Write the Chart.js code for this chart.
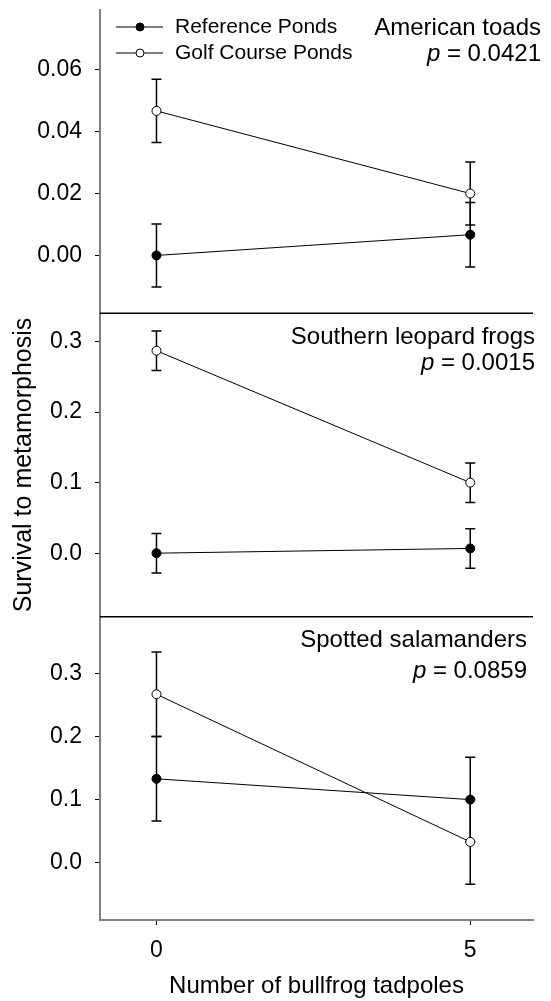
<!DOCTYPE html>
<html>
<head>
<meta charset="utf-8">
<script src="https://cdn.jsdelivr.net/npm/chart.js@4.4.1/dist/chart.umd.min.js"></script>
<style>
  html, body { margin: 0; padding: 0; background: #fff; }
  #wrap { width: 551px; height: 1001px; }
</style>
</head>
<body>
<div id="wrap"><canvas id="chart" width="551" height="1001"></canvas></div>
<script>
// bullfrog tadpoles added per tank
var tadpoles = [0, 5];

// American toads
var toadRef = [0, 0.0067];
var toadRefSe = [0.0102, 0.0104];
var toadGolf = [0.0467, 0.020];
var toadGolfSe = [0.0102, 0.0102];

// Southern leopard frogs
var frogRef = [0, 0.0067];
var frogRefSe = [0.028, 0.028];
var frogGolf = [0.287, 0.100];
var frogGolfSe = [0.028, 0.028];

// Spotted salamanders
var salRef = [0.133, 0.100];
var salRefSe = [0.067, 0.067];
var salGolf = [0.267, 0.033];
var salGolfSe = [0.067, 0.067];

// tick labels
var xTicks = [0, 5];
var toadTicks = [0, 0.02, 0.04, 0.06];
var frogTicks = [0, 0.1, 0.2, 0.3];
var salTicks = [0, 0.1, 0.2, 0.3];

var panelNames = ["American toads", "Southern leopard frogs", "Spotted salamanders"];
var panelP = ["0.0421", "0.0015", "0.0859"];

var FONT = '"Liberation Sans", Arial, sans-serif';
var AXIS_GREY = "#808080";

Chart.defaults.color = "#000";
Chart.defaults.font.family = FONT;

function points(xs, ys) {
  var out = [];
  for (var i = 0; i < xs.length; i++) out.push({ x: xs[i], y: ys[i] });
  return out;
}

function series(label, ys, se, axis, open) {
  return {
    label: label,
    data: points(tadpoles, ys),
    se: se,
    yAxisID: axis,
    showLine: true,
    borderColor: "#000",
    borderWidth: 1,
    pointRadius: 4.5,
    pointHoverRadius: 4.5,
    pointBorderWidth: 1,
    pointBorderColor: "#000",
    pointBackgroundColor: open ? "#fff" : "#000"
  };
}

function yScale(min, max, ticks, digits, title) {
  var s = {
    type: "linear",
    position: "left",
    stack: "panels",
    stackWeight: 1,
    min: min,
    max: max,
    border: { display: true, color: AXIS_GREY, width: 2 },
    grid: { drawOnChartArea: false, drawTicks: true, tickLength: 5, color: "#000", lineWidth: 1 },
    ticks: {
      padding: 13,
      font: { size: 23 },
      callback: function(v) { return v.toFixed(digits); }
    },
    afterBuildTicks: function(scale) {
      scale.ticks = ticks.map(function(v) { return { value: v }; });
    },
    afterFit: function(scale) {
      scale.width = 100;
      scale.paddingTop = 0;
      scale.paddingBottom = 0;
    }
  };
  if (title) {
    s.title = { display: true, text: title, font: { size: 25 }, padding: { top: 9, bottom: 0 } };
  }
  return s;
}

// error bars sit under the markers
var errorBars = {
  id: "errorBars",
  beforeDatasetsDraw: function(chart) {
    var ctx = chart.ctx;
    var xs = chart.scales.x;
    ctx.save();
    ctx.strokeStyle = "#000";
    ctx.lineWidth = 1.5;
    chart.data.datasets.forEach(function(ds) {
      var ys = chart.scales[ds.yAxisID];
      ds.data.forEach(function(p, i) {
        var px = xs.getPixelForValue(p.x);
        var top = ys.getPixelForValue(p.y + ds.se[i]);
        var bot = ys.getPixelForValue(p.y - ds.se[i]);
        ctx.beginPath();
        ctx.moveTo(px, top); ctx.lineTo(px, bot);
        ctx.moveTo(px - 5, top); ctx.lineTo(px + 5, top);
        ctx.moveTo(px - 5, bot); ctx.lineTo(px + 5, bot);
        ctx.stroke();
      });
    });
    ctx.restore();
  }
};

// panel separators, species labels, p values and legend
var decorations = {
  id: "decorations",
  afterDraw: function(chart) {
    var ctx = chart.ctx;
    var area = chart.chartArea;
    var axes = [chart.scales.yTop, chart.scales.yMid, chart.scales.yBot];
    ctx.save();

    ctx.strokeStyle = "#000";
    ctx.lineWidth = 1.5;
    [axes[1].top, axes[2].top].forEach(function(y) {
      ctx.beginPath();
      ctx.moveTo(area.left, y);
      ctx.lineTo(area.right, y);
      ctx.stroke();
    });

    var rights = [541, 535, 527];
    var nameY = [28, 337, 640];
    var pY = [54, 363, 671];
    ctx.fillStyle = "#000";
    ctx.textBaseline = "middle";
    for (var i = 0; i < 3; i++) {
      ctx.font = "24px " + FONT;
      ctx.textAlign = "right";
      ctx.fillText(panelNames[i], rights[i], nameY[i]);
      var rest = " = " + panelP[i];
      ctx.fillText(rest, rights[i], pY[i]);
      var w = ctx.measureText(rest).width;
      ctx.font = "italic 24px " + FONT;
      ctx.fillText("p", rights[i] - w, pY[i]);
    }

    // legend
    var rows = [
      { y: 27, text: "Reference Ponds", fill: "#000" },
      { y: 53, text: "Golf Course Ponds", fill: "#fff" }
    ];
    ctx.textAlign = "left";
    ctx.font = "21px " + FONT;
    rows.forEach(function(r) {
      ctx.lineWidth = 1;
      ctx.beginPath();
      ctx.moveTo(116, r.y); ctx.lineTo(163, r.y);
      ctx.stroke();
      ctx.beginPath();
      ctx.arc(140, r.y, 4, 0, Math.PI * 2);
      ctx.fillStyle = r.fill;
      ctx.fill();
      ctx.stroke();
      ctx.fillStyle = "#000";
      ctx.fillText(r.text, 175, r.y);
    });

    ctx.restore();
  }
};

var ctx = document.getElementById("chart").getContext("2d");
new Chart(ctx, {
  type: "scatter",
  data: {
    datasets: [
      series("Reference Ponds", toadRef, toadRefSe, "yTop", false),
      series("Golf Course Ponds", toadGolf, toadGolfSe, "yTop", true),
      series("Reference Ponds", frogRef, frogRefSe, "yMid", false),
      series("Golf Course Ponds", frogGolf, frogGolfSe, "yMid", true),
      series("Reference Ponds", salRef, salRefSe, "yBot", false),
      series("Golf Course Ponds", salGolf, salGolfSe, "yBot", true)
    ]
  },
  options: {
    responsive: false,
    animation: false,
    devicePixelRatio: 1,
    layout: { padding: { top: 10, right: 18, bottom: 0, left: 0 } },
    plugins: { legend: { display: false }, tooltip: { enabled: false } },
    scales: {
      x: {
        type: "linear",
        position: "bottom",
        min: -0.9,
        max: 6,
        border: { display: true, color: AXIS_GREY, width: 2 },
        grid: { drawOnChartArea: false, drawTicks: true, tickLength: 5, color: "#000", lineWidth: 1 },
        ticks: { padding: 12, font: { size: 23 } },
        afterBuildTicks: function(scale) {
          scale.ticks = xTicks.map(function(v) { return { value: v }; });
        },
        afterFit: function(scale) {
          scale.height = 81;
          scale.paddingLeft = 0;
          scale.paddingRight = 0;
        },
        title: { display: true, text: "Number of bullfrog tadpoles", font: { size: 24 }, padding: { top: 0, bottom: 0 } }
      },
      yBot: yScale(-0.0908, 0.390, salTicks, 1),
      yMid: yScale(-0.090, 0.340, frogTicks, 1, "Survival to metamorphosis"),
      yTop: yScale(-0.0187, 0.0793, toadTicks, 2)
    }
  },
  plugins: [errorBars, decorations]
});
</script>
</body>
</html>
